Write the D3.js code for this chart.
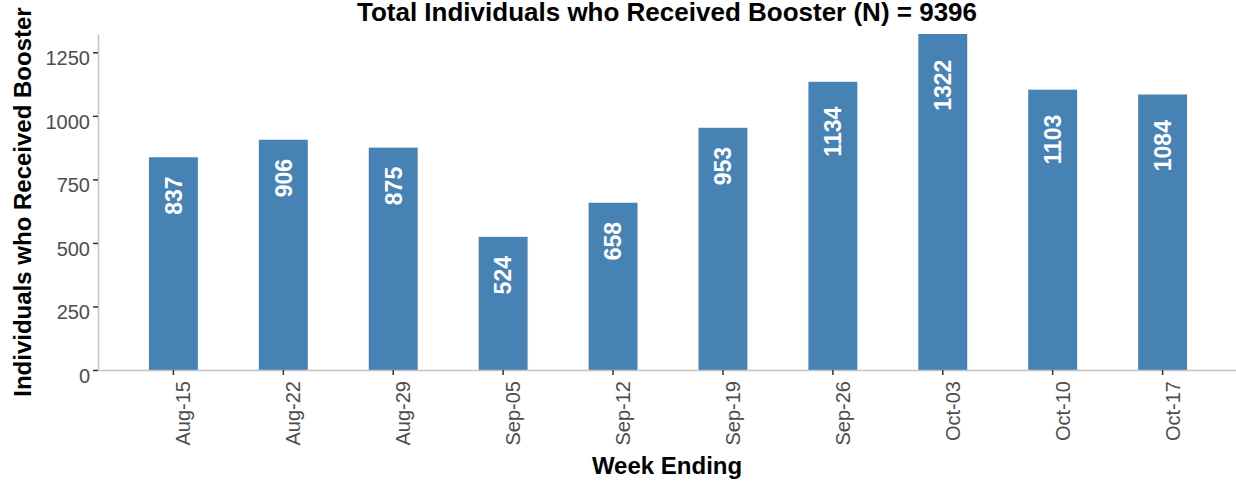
<!DOCTYPE html>
<html>
<head>
<meta charset="utf-8">
<script src="https://cdn.jsdelivr.net/npm/d3@7"></script>
<style>
  body { margin: 0; background: #fff; }
  svg { display: block; font-family: "Liberation Sans", Arial, sans-serif; }
</style>
</head>
<body>
<svg id="chart"></svg>
<script>
const weeks = ['Aug-15','Aug-22','Aug-29','Sep-05','Sep-12','Sep-19','Sep-26','Oct-03','Oct-10','Oct-17'];
const boosters = [837, 906, 875, 524, 658, 953, 1134, 1322, 1103, 1084];
const yTicks = [0, 250, 500, 750, 1000, 1250];
const totalN = 9396;

class BarChart {

    constructor( config, weeks, values ){
	this.config = {
	    parent: config.parent,
	    width: config.width || 1236,
	    height: config.height || 485,
	    margin: config.margin || {top: 34, right: 0, bottom: 115, left: 98}
	}
	this.weeks = weeks;
	this.values = values;
	this.init();
    }

    init() {
	let self = this;
	let m = self.config.margin;

	self.svg = d3.select( self.config.parent )
	    .attr('width', self.config.width)
	    .attr('height', self.config.height);

	self.x0 = m.left;
	self.x1 = 1238;
	self.y0 = self.config.height - m.bottom;
	self.y1 = m.top;

	self.xscale = d3.scaleBand()
	    .domain(self.weeks)
	    .range([self.x0, self.x1])
	    .paddingInner(0.555)
	    .paddingOuter(0.4636);

	self.yscale = d3.scaleLinear()
	    .domain([0, d3.max(self.values)])
	    .range([self.y0, self.y1]);

	self.chart = self.svg.append('g');
    }

    render() {
	let self = this;
	let data = self.weeks.map((w, i) => ({week: w, value: self.values[i]}));

	// bars
	self.chart.selectAll('rect.bar')
	    .data(data)
	    .join('rect')
	    .attr('class', 'bar')
	    .attr('x', d => self.xscale(d.week))
	    .attr('y', d => self.yscale(d.value))
	    .attr('width', self.xscale.bandwidth())
	    .attr('height', d => self.y0 - self.yscale(d.value))
	    .attr('fill', '#4682B4');

	// value labels (rotated, pushed down by half their own length)
	self.chart.selectAll('text.val')
	    .data(data)
	    .join('text')
	    .attr('class', 'val')
	    .attr('text-anchor', 'end')
	    .attr('dy', '0.36em')
	    .attr('fill', '#fff')
	    .attr('font-weight', 'bold')
	    .attr('font-size', 23)
	    .text(d => d.value)
	    .attr('transform', function(d) {
		let len = this.getComputedTextLength();
		let cx = self.xscale(d.week) + self.xscale.bandwidth() / 2;
		let cy = self.yscale(d.value) + len * 0.5;
		return `translate(${cx},${cy}) rotate(-90)`;
	    });

	// y axis
	let yaxis = d3.axisLeft(self.yscale)
	    .tickValues(yTicks)
	    .tickFormat(d3.format('d'))
	    .tickSize(5)
	    .tickSizeOuter(0);
	let yg = self.svg.append('g')
	    .attr('transform', `translate(${self.x0},0)`)
	    .call(yaxis);
	yg.select('.domain').attr('stroke', '#c4c4c4').attr('stroke-width', 1.5);
	yg.selectAll('.tick line').attr('stroke', '#333').attr('stroke-width', 1.5);
	yg.selectAll('.tick text')
	    .attr('x', -8)
	    .attr('dy', '0.62em')
	    .attr('fill', '#4d4d4d')
	    .attr('font-size', 20)
	    .attr('font-family', null);

	// x axis
	let xaxis = d3.axisBottom(self.xscale)
	    .tickSize(5)
	    .tickSizeOuter(0);
	let xg = self.svg.append('g')
	    .attr('transform', `translate(0,${self.y0})`)
	    .call(xaxis);
	xg.select('.domain').attr('stroke', '#c4c4c4').attr('stroke-width', 1.5);
	xg.selectAll('.tick line').attr('stroke', '#333').attr('stroke-width', 1.5);
	xg.selectAll('.tick text')
	    .attr('text-anchor', 'end')
	    .attr('x', 0)
	    .attr('y', 0)
	    .attr('dy', null)
	    .attr('transform', 'translate(17,11) rotate(-90)')
	    .attr('fill', '#4d4d4d')
	    .attr('font-size', 20)
	    .attr('font-family', null);

	// titles
	let mid = (self.x0 + 1236) / 2;
	self.svg.append('text')
	    .attr('x', mid)
	    .attr('y', 21)
	    .attr('text-anchor', 'middle')
	    .attr('font-weight', 'bold')
	    .attr('font-size', 26)
	    .text(`Total Individuals who Received Booster (N) = ${totalN}`);

	self.svg.append('text')
	    .attr('x', mid)
	    .attr('y', 474)
	    .attr('text-anchor', 'middle')
	    .attr('font-weight', 'bold')
	    .attr('font-size', 24)
	    .text('Week Ending');

	self.svg.append('text')
	    .attr('transform', `translate(31,${(self.y0 + self.y1) / 2}) rotate(-90)`)
	    .attr('text-anchor', 'middle')
	    .attr('font-weight', 'bold')
	    .attr('font-size', 24)
	    .text('Individuals who Received Booster');
    }
}

let chart = new BarChart({parent: '#chart', width: 1236, height: 485}, weeks, boosters);
chart.render();
</script>
</body>
</html>
